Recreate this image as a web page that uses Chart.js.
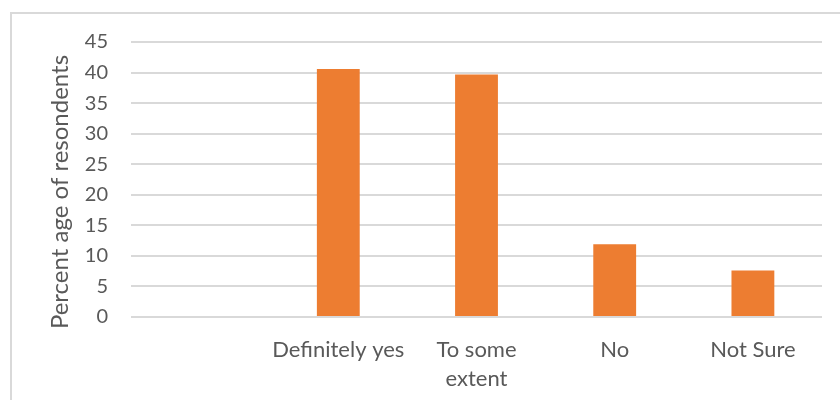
<!DOCTYPE html>
<html>
<head>
<meta charset="utf-8">
<script src="https://cdn.jsdelivr.net/npm/chart.js@4"></script>
<style>
    html, body { margin: 0; padding: 0; background: #fff; overflow: hidden; }
    #frame {
        position: absolute; left: 10px; top: 12px;
        width: 900px; height: 500px;
        border: 2px solid #d9d9d9;
    }
    #wrap { position: absolute; left: 0; top: 0; width: 840px; height: 400px; }
</style>
</head>
<body>
<div id="frame"></div>
<div id="wrap"><canvas id="surveyChart"></canvas></div>
<script>
const categories = ["", "Definitely yes", ["To some", "extent"], "No", "Not Sure"];
const percentages = [null, 40.6, 39.7, 11.9, 7.6];
const yTitle = "Percent age of resondents";

const textColor = "#595959";
const fontFamily = "Lato, 'Open Sans', sans-serif";

// y-axis title sits a little below the plot's vertical centre, so it is drawn by hand
const yTitlePlugin = {
    id: "yTitle",
    afterDraw(chart) {
        const ctx = chart.ctx;
        ctx.save();
        ctx.translate(60, 192);
        ctx.rotate(-Math.PI / 2);
        ctx.font = "24px " + fontFamily;
        ctx.fillStyle = textColor;
        ctx.textAlign = "center";
        ctx.textBaseline = "middle";
        ctx.fillText(yTitle, 0, 0);
        ctx.restore();
    }
};

const ctx = document.getElementById("surveyChart").getContext("2d");
new Chart(ctx, {
    type: "bar",
    data: {
        labels: categories,
        datasets: [{
            data: percentages,
            backgroundColor: "#ed7d31",
            borderWidth: 0,
            barPercentage: 0.31,
            categoryPercentage: 1
        }]
    },
    options: {
        responsive: true,
        maintainAspectRatio: false,
        animation: false,
        layout: { padding: { top: 42, right: 18, left: 0, bottom: 0 } },
        plugins: {
            legend: { display: false },
            tooltip: { enabled: false }
        },
        scales: {
            x: {
                grid: { display: false },
                border: { display: false },
                ticks: {
                    color: textColor,
                    font: { family: fontFamily, size: 22, lineHeight: 1.32 },
                    maxRotation: 0,
                    autoSkip: false,
                    padding: 10
                },
                afterFit: s => { s.height = 83; }
            },
            y: {
                min: 0,
                max: 45,
                grid: { color: "#d9d9d9", lineWidth: 2, drawTicks: false },
                border: { display: false },
                ticks: {
                    stepSize: 5,
                    color: textColor,
                    font: { family: fontFamily, size: 20 },
                    padding: 23
                },
                afterFit: s => { s.width = 131; }
            }
        }
    },
    plugins: [yTitlePlugin]
});
</script>
</body>
</html>
